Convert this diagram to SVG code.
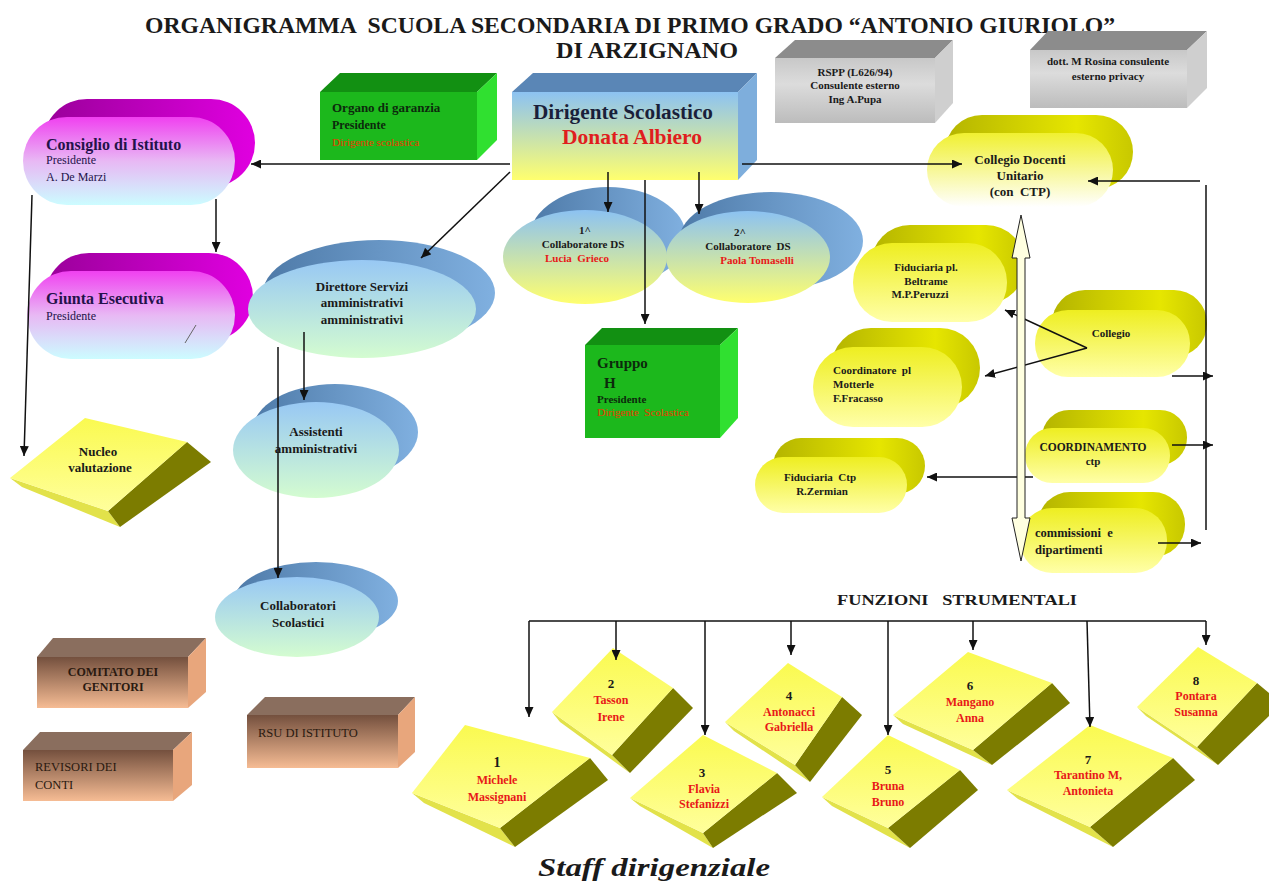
<svg xmlns="http://www.w3.org/2000/svg" width="1269" height="882" viewBox="0 0 1269 882">
<defs>
<style>
.t{font-family:"Liberation Serif","Times New Roman",serif;font-weight:bold;fill:#1a1a1a;white-space:pre}
.m{text-anchor:middle}
.red{fill:#e81818}
.ln{stroke:#111;stroke-width:1.5;fill:none}
.lna{stroke:#111;stroke-width:1.5;fill:none;marker-end:url(#ah)}
.sideO{fill:#7c7c00}
.bev{fill:#e2e24a}
.topS{fill:url(#gSlab)}
</style>
<marker id="ah" markerUnits="userSpaceOnUse" markerWidth="11" markerHeight="9" refX="10" refY="4.5" orient="auto"><path d="M0,0 L10,4.5 L0,9 z" fill="#111"/></marker>
<linearGradient id="gPink" x1="0" y1="0" x2="0" y2="1"><stop offset="0" stop-color="#f040f0"/><stop offset="0.5" stop-color="#e8b8f4"/><stop offset="1" stop-color="#ccfcff"/></linearGradient>
<linearGradient id="gMag" x1="0" y1="0" x2="1" y2="0"><stop offset="0" stop-color="#9a009a"/><stop offset="1" stop-color="#e000e0"/></linearGradient>
<linearGradient id="gBY" x1="0" y1="0" x2="0" y2="1"><stop offset="0" stop-color="#8cc2f2"/><stop offset="1" stop-color="#ffff6e"/></linearGradient>
<linearGradient id="gBG" x1="0" y1="0" x2="0" y2="1"><stop offset="0" stop-color="#98c8f4"/><stop offset="1" stop-color="#d4fcd0"/></linearGradient>
<linearGradient id="gSteel" x1="0" y1="0" x2="1" y2="0"><stop offset="0" stop-color="#4e7aa8"/><stop offset="1" stop-color="#80b0e0"/></linearGradient>
<linearGradient id="gYel" x1="0" y1="0" x2="0" y2="1"><stop offset="0" stop-color="#eeee20"/><stop offset="1" stop-color="#ffffa8"/></linearGradient>
<linearGradient id="gYelW" x1="0" y1="0" x2="0" y2="1"><stop offset="0" stop-color="#f0f030"/><stop offset="1" stop-color="#ffffff"/></linearGradient>
<linearGradient id="gOl" x1="0" y1="0" x2="1" y2="0"><stop offset="0" stop-color="#b4b400"/><stop offset="0.7" stop-color="#e6e600"/><stop offset="1" stop-color="#c8c800"/></linearGradient>
<linearGradient id="gGray" x1="0" y1="0" x2="0" y2="1"><stop offset="0" stop-color="#c8c8c8"/><stop offset="0.4" stop-color="#dcdcdc"/><stop offset="1" stop-color="#bcbcbc"/></linearGradient>
<linearGradient id="gBrown" x1="0" y1="0" x2="0" y2="1"><stop offset="0" stop-color="#74503e"/><stop offset="1" stop-color="#f6bc94"/></linearGradient>
<linearGradient id="gSlab" x1="0" y1="0" x2="0" y2="1"><stop offset="0" stop-color="#fafa50"/><stop offset="1" stop-color="#ffff9c"/></linearGradient>
</defs>
<rect width="1269" height="882" fill="#ffffff"/>

<g id="title">
<text class="t m" x="630" y="33" font-size="24" textLength="970" lengthAdjust="spacingAndGlyphs">ORGANIGRAMMA  SCUOLA SECONDARIA DI PRIMO GRADO “ANTONIO GIURIOLO”</text>
<text class="t m" x="647" y="58" font-size="24" textLength="182" lengthAdjust="spacingAndGlyphs">DI ARZIGNANO</text>
</g>

<g id="consiglio-istituto">
<rect x="43" y="99" width="212" height="88" rx="44" fill="url(#gMag)"/>
<rect x="23" y="117" width="212" height="88" rx="44" fill="url(#gPink)"/>
<text class="t" x="46" y="150" font-size="16" style="fill:#24124a">Consiglio di Istituto</text>
<text class="t" x="46" y="164" font-size="12" style="fill:#24124a;font-weight:normal">Presidente</text>
<text class="t" x="46" y="181" font-size="12" style="fill:#24124a;font-weight:normal">A. De Marzi</text>
</g>

<g id="giunta-esecutiva">
<rect x="45" y="253" width="208" height="88" rx="44" fill="url(#gMag)"/>
<rect x="27" y="271" width="208" height="88" rx="44" fill="url(#gPink)"/>
<text class="t" x="46" y="304" font-size="16" style="fill:#24124a">Giunta Esecutiva</text>
<text class="t" x="46" y="320" font-size="12" style="fill:#24124a;font-weight:normal">Presidente</text>
<line x1="185" y1="343" x2="196" y2="325" stroke="#666" stroke-width="1"/>
</g>

<g id="organo-garanzia">
<polygon points="320,92 340,73 497,73 477,92" fill="#129012"/>
<polygon points="477,92 497,73 497,140 477,160" fill="#30e030"/>
<rect x="320" y="92" width="157" height="68" fill="#1cb81c"/>
<text class="t" x="332" y="112" font-size="13" style="fill:#0c2a0c">Organo di garanzia</text>
<text class="t" x="332" y="129" font-size="12" style="fill:#0c2a0c">Presidente</text>
<text class="t" x="332" y="146" font-size="11" style="fill:#e83a00;font-weight:normal">Dirigente scolastica</text>
</g>

<g id="dirigente">
<polygon points="512,92 533,73 757,73 738,92" fill="#5a86b6"/>
<polygon points="738,92 757,73 757,160 738,180" fill="#7eaedc"/>
<rect x="512" y="92" width="226" height="88" fill="url(#gBY)"/>
<text class="t m" x="623" y="119" font-size="20" textLength="180" lengthAdjust="spacingAndGlyphs" style="fill:#1a1f3a">Dirigente Scolastico</text>
<text class="t m" x="632" y="144" font-size="21" textLength="140" lengthAdjust="spacingAndGlyphs" style="fill:#e01e1e">Donata Albiero</text>
</g>

<g id="rspp">
<polygon points="775,58 795,40 953,40 935,58" fill="#8c8c8c"/>
<polygon points="935,58 953,40 953,103 935,123" fill="#cfcfcf"/>
<rect x="775" y="58" width="160" height="65" fill="url(#gGray)"/>
<text class="t m" x="855" y="76" font-size="11">RSPP (L626/94)</text>
<text class="t m" x="855" y="89" font-size="11">Consulente esterno</text>
<text class="t m" x="855" y="103" font-size="11">Ing A.Pupa</text>
</g>

<g id="privacy">
<polygon points="1030,50 1048,31 1207,31 1187,50" fill="#8c8c8c"/>
<polygon points="1187,50 1207,31 1207,88 1187,108" fill="#cfcfcf"/>
<rect x="1030" y="50" width="157" height="58" fill="url(#gGray)"/>
<text class="t m" x="1108" y="65" font-size="11">dott. M Rosina consulente</text>
<text class="t m" x="1108" y="80" font-size="11">esterno privacy</text>
</g>

<g id="collegio-docenti">
<rect x="945" y="115" width="188" height="74" rx="37" fill="url(#gOl)"/>
<rect x="927" y="133" width="186" height="74" rx="37" fill="url(#gYelW)"/>
<text class="t m" x="1020" y="164" font-size="13">Collegio Docenti</text>
<text class="t m" x="1020" y="180" font-size="13">Unitario</text>
<text class="t m" x="1020" y="196" font-size="13">(con  CTP)</text>
</g>

<g id="collaboratore-1">
<ellipse cx="608" cy="237" rx="78" ry="50" fill="url(#gSteel)"/>
<ellipse cx="585" cy="257" rx="82" ry="47" fill="url(#gBY)"/>
<text class="t m" x="585" y="234" font-size="11">1^</text>
<text class="t m" x="583" y="248" font-size="11">Collaboratore DS</text>
<text class="t m red" x="577" y="262" font-size="11">Lucia  Grieco</text>
</g>

<g id="collaboratore-2">
<ellipse cx="771" cy="241" rx="92" ry="49" fill="url(#gSteel)"/>
<ellipse cx="748" cy="257" rx="82" ry="46" fill="url(#gBY)"/>
<text class="t m" x="740" y="236" font-size="11">2^</text>
<text class="t m" x="748" y="250" font-size="11">Collaboratore  DS</text>
<text class="t m red" x="757" y="264" font-size="11">Paola Tomaselli</text>
</g>

<g id="direttore-servizi">
<ellipse cx="379" cy="293" rx="116" ry="53" fill="url(#gSteel)"/>
<ellipse cx="362" cy="309" rx="114" ry="49" fill="url(#gBG)"/>
<text class="t m" x="362" y="291" font-size="13">Direttore Servizi</text>
<text class="t m" x="362" y="307" font-size="13">amministrativi</text>
<text class="t m" x="362" y="324" font-size="13">amministrativi</text>
</g>

<g id="assistenti">
<ellipse cx="335" cy="432" rx="83" ry="48" fill="url(#gSteel)"/>
<ellipse cx="316" cy="450" rx="83" ry="48" fill="url(#gBG)"/>
<text class="t m" x="316" y="436" font-size="13">Assistenti</text>
<text class="t m" x="316" y="453" font-size="13">amministrativi</text>
</g>

<g id="collaboratori-scolastici">
<ellipse cx="316" cy="601" rx="82" ry="39" fill="url(#gSteel)"/>
<ellipse cx="297" cy="617" rx="82" ry="40" fill="url(#gBG)"/>
<text class="t m" x="298" y="610" font-size="13">Collaboratori</text>
<text class="t m" x="298" y="627" font-size="13">Scolastici</text>
</g>

<g id="gruppo-h">
<polygon points="585,345 602,328 738,328 720,345" fill="#129012"/>
<polygon points="720,345 738,328 738,418 720,438" fill="#30e030"/>
<rect x="585" y="345" width="135" height="93" fill="#1cb81c"/>
<text class="t" x="597" y="368" font-size="15" style="fill:#0c2a0c">Gruppo</text>
<text class="t" x="604" y="388" font-size="15" style="fill:#0c2a0c">H</text>
<text class="t" x="597" y="403" font-size="11" style="fill:#0c2a0c">Presidente</text>
<text class="t" x="597" y="416" font-size="11" style="fill:#e83a00;font-weight:normal">Dirigente  Scolastica</text>
</g>

<g id="nucleo-valutazione">
<polygon points="10,478 108,511 120,527 22,487" class="bev"/>
<polygon points="187,442 211,462 120,527 108,511" class="sideO"/>
<polygon points="10,478 85,418 187,442 108,511" class="topS"/>
<text class="t m" x="98" y="456" font-size="13">Nucleo</text>
<text class="t m" x="100" y="472" font-size="13">valutazione</text>
</g>

<g id="fiduciaria-beltrame">
<rect x="871" y="225" width="154" height="79" rx="39" fill="url(#gOl)"/>
<rect x="853" y="243" width="154" height="79" rx="39" fill="url(#gYel)"/>
<text class="t m" x="926" y="271" font-size="11">Fiduciaria pl.</text>
<text class="t m" x="926" y="285" font-size="11">Beltrame</text>
<text class="t m" x="920" y="298" font-size="11">M.P.Peruzzi</text>
</g>

<g id="collegio">
<rect x="1052" y="290" width="155" height="67" rx="33" fill="url(#gOl)"/>
<rect x="1035" y="310" width="155" height="67" rx="33" fill="url(#gYel)"/>
<text class="t m" x="1111" y="337" font-size="11">Collegio</text>
</g>

<g id="coordinatore-motterle">
<rect x="831" y="328" width="149" height="80" rx="40" fill="url(#gOl)"/>
<rect x="813" y="347" width="149" height="80" rx="40" fill="url(#gYel)"/>
<text class="t" x="833" y="374" font-size="11">Coordinatore  pl</text>
<text class="t" x="833" y="388" font-size="11">Motterle</text>
<text class="t" x="833" y="402" font-size="11">F.Fracasso</text>
</g>

<g id="fiduciaria-ctp">
<rect x="773" y="438" width="152" height="56" rx="28" fill="url(#gOl)"/>
<rect x="755" y="457" width="152" height="56" rx="28" fill="url(#gYel)"/>
<text class="t m" x="820" y="481" font-size="11">Fiduciaria  Ctp</text>
<text class="t m" x="822" y="495" font-size="11">R.Zermian</text>
</g>

<g id="coordinamento-ctp">
<rect x="1042" y="410" width="145" height="55" rx="27" fill="url(#gOl)"/>
<rect x="1025" y="428" width="145" height="55" rx="27" fill="url(#gYel)"/>
<text class="t m" x="1093" y="451" font-size="11.5">COORDINAMENTO</text>
<text class="t m" x="1093" y="465" font-size="11">ctp</text>
</g>

<g id="commissioni">
<rect x="1038" y="492" width="147" height="65" rx="32" fill="url(#gOl)"/>
<rect x="1020" y="508" width="147" height="65" rx="32" fill="url(#gYel)"/>
<text class="t" x="1035" y="537" font-size="12.5">commissioni  e</text>
<text class="t" x="1035" y="554" font-size="12.5">dipartimenti</text>
</g>

<g id="comitato-genitori">
<polygon points="37,657 53,638 206,638 188,657" fill="#8a6e5e"/>
<polygon points="188,657 206,638 206,692 188,708" fill="#e8a67c"/>
<rect x="37" y="657" width="151" height="51" fill="url(#gBrown)"/>
<text class="t m" x="113" y="676" font-size="12" style="fill:#2a1a10">COMITATO DEI</text>
<text class="t m" x="113" y="691" font-size="12" style="fill:#2a1a10">GENITORI</text>
</g>

<g id="revisori-conti">
<polygon points="23,750 40,732 192,732 173,750" fill="#8a6e5e"/>
<polygon points="173,750 192,732 192,785 173,801" fill="#e8a67c"/>
<rect x="23" y="750" width="150" height="51" fill="url(#gBrown)"/>
<text class="t" x="35" y="771" font-size="12.5" style="fill:#2a1a10;font-weight:normal">REVISORI DEI</text>
<text class="t" x="35" y="789" font-size="12.5" style="fill:#2a1a10;font-weight:normal">CONTI</text>
</g>

<g id="rsu-istituto">
<polygon points="247,715 265,697 415,697 398,715" fill="#8a6e5e"/>
<polygon points="398,715 415,697 415,752 398,768" fill="#e8a67c"/>
<rect x="247" y="715" width="151" height="53" fill="url(#gBrown)"/>
<text class="t" x="258" y="737" font-size="12.5" style="fill:#2a1a10;font-weight:normal">RSU DI ISTITUTO</text>
</g>

<g id="funzioni-title">
<text class="t" x="837" y="605" font-size="14" textLength="240" lengthAdjust="spacingAndGlyphs">FUNZIONI   STRUMENTALI</text>
</g>

<g id="fs-2">
<polygon points="552,712 612,755 630,773 560,722" class="bev"/>
<polygon points="673,688 693,708 630,773 612,755" class="sideO"/>
<polygon points="552,712 613,648 673,688 612,755" class="topS"/>
<text class="t m" x="611" y="688" font-size="13">2</text>
<text class="t m red" x="611" y="704" font-size="12">Tasson</text>
<text class="t m red" x="611" y="721" font-size="12">Irene</text>
</g>

<g id="fs-1">
<polygon points="412,793 500,828 515,847 424,803" class="bev"/>
<polygon points="590,758 608,780 515,847 500,828" class="sideO"/>
<polygon points="412,793 465,725 590,758 500,828" class="topS"/>
<text class="t m" x="497" y="767" font-size="14">1</text>
<text class="t m red" x="497" y="784" font-size="12">Michele</text>
<text class="t m red" x="497" y="801" font-size="12">Massignani</text>
</g>

<g id="fs-4">
<polygon points="725,722 795,765 810,782 734,731" class="bev"/>
<polygon points="842,697 862,715 810,782 795,765" class="sideO"/>
<polygon points="725,722 788,663 842,697 795,765" class="topS"/>
<text class="t m" x="789" y="700" font-size="13">4</text>
<text class="t m red" x="789" y="716" font-size="12">Antonacci</text>
<text class="t m red" x="789" y="731" font-size="12">Gabriella</text>
</g>

<g id="fs-3">
<polygon points="630,798 703,833 713,848 640,806" class="bev"/>
<polygon points="777,773 797,793 713,848 703,833" class="sideO"/>
<polygon points="630,798 703,735 777,773 703,833" class="topS"/>
<text class="t m" x="702" y="777" font-size="13">3</text>
<text class="t m red" x="704" y="793" font-size="12">Flavia</text>
<text class="t m red" x="704" y="808" font-size="12">Stefanizzi</text>
</g>

<g id="fs-6">
<polygon points="893,715 973,750 992,765 903,724" class="bev"/>
<polygon points="1052,683 1070,703 992,765 973,750" class="sideO"/>
<polygon points="893,715 968,652 1052,683 973,750" class="topS"/>
<text class="t m" x="970" y="690" font-size="13">6</text>
<text class="t m red" x="970" y="706" font-size="12">Mangano</text>
<text class="t m red" x="970" y="722" font-size="12">Anna</text>
</g>

<g id="fs-5">
<polygon points="822,797 888,828 910,848 832,806" class="bev"/>
<polygon points="960,770 978,790 910,848 888,828" class="sideO"/>
<polygon points="822,797 888,735 960,770 888,828" class="topS"/>
<text class="t m" x="888" y="774" font-size="13">5</text>
<text class="t m red" x="888" y="790" font-size="12">Bruna</text>
<text class="t m red" x="888" y="806" font-size="12">Bruno</text>
</g>

<g id="fs-8">
<polygon points="1137,707 1197,747 1218,765 1146,716" class="bev"/>
<polygon points="1257,683 1269,693 1269,716 1218,765 1197,747" class="sideO"/>
<polygon points="1137,707 1198,647 1257,683 1197,747" class="topS"/>
<text class="t m" x="1196" y="685" font-size="13">8</text>
<text class="t m red" x="1196" y="700" font-size="12">Pontara</text>
<text class="t m red" x="1196" y="716" font-size="12">Susanna</text>
</g>

<g id="fs-7">
<polygon points="1007,790 1090,827 1113,847 1018,799" class="bev"/>
<polygon points="1173,758 1195,780 1113,847 1090,827" class="sideO"/>
<polygon points="1007,790 1090,725 1173,758 1090,827" class="topS"/>
<text class="t m" x="1088" y="764" font-size="13">7</text>
<text class="t m red" x="1088" y="779" font-size="12">Tarantino M,</text>
<text class="t m red" x="1088" y="795" font-size="12">Antonieta</text>
</g>

<g id="footer">
<text class="t m" x="654" y="876" font-size="26" font-style="italic" textLength="232" lengthAdjust="spacingAndGlyphs">Staff dirigenziale</text>
</g>

<g id="connectors">
<path class="lna" d="M510,164 H251"/>
<path class="lna" d="M742,164 H962"/>
<path class="lna" d="M510,172 L421,258"/>
<path class="lna" d="M608,172 V212"/>
<path class="lna" d="M699,172 V214"/>
<path class="lna" d="M645,180 V324"/>
<path class="lna" d="M216,199 V252"/>
<path class="lna" d="M32,195 L24,456"/>
<path class="lna" d="M304,332 V400"/>
<path class="lna" d="M278,347 V578"/>
<path class="lna" d="M1200,181 H1088"/>
<path class="ln" d="M1206,185 V530"/>
<path class="lna" d="M1172,376 H1213"/>
<path class="lna" d="M1172,445 H1213"/>
<path class="lna" d="M1158,543 H1201"/>
<path class="lna" d="M1087,348 L1005,310"/>
<path class="lna" d="M1087,348 L985,376"/>
<path class="lna" d="M1033,477 H927"/>
<path d="M1021,215 L1030,258 L1025,258 L1025,518 L1030,518 L1021,561 L1012,518 L1017,518 L1017,258 L1012,258 Z" fill="#ffffe0" stroke="#222" stroke-width="1"/>
<path class="ln" d="M529,621 H1206"/>
<path class="lna" d="M529,621 V717"/>
<path class="lna" d="M616,621 V660"/>
<path class="lna" d="M705,621 V735"/>
<path class="lna" d="M791,621 V655"/>
<path class="lna" d="M888,621 V735"/>
<path class="lna" d="M973,621 V650"/>
<path class="lna" d="M1087,621 L1090,727"/>
<path class="lna" d="M1206,621 V645"/>
</g>
</svg>
